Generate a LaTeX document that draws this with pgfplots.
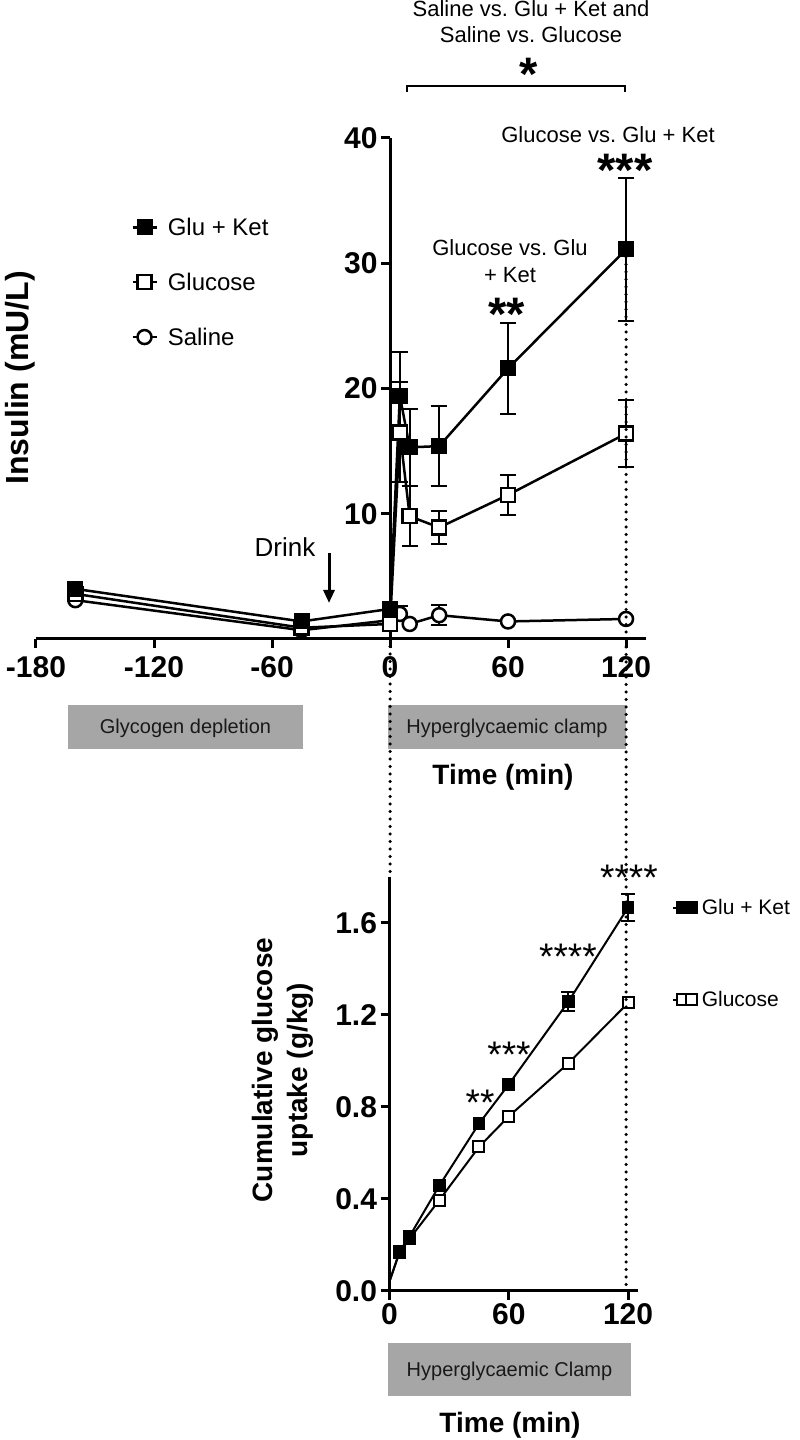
\documentclass[border=0pt]{standalone}
\usepackage{fontspec}
\setmainfont{Liberation Sans}
\usepackage{pgfplots}
\pgfplotsset{compat=1.18}
\usetikzlibrary{arrows.meta}
\definecolor{boxgray}{RGB}{166,166,166}
\definecolor{boxtext}{RGB}{25,25,25}
\frenchspacing
\tikzset{
 GK/.style={black, line width=2.5pt, mark=square*, mark size=7pt, mark options={solid, fill=black, draw=black, line width=2pt}},
 GL/.style={black, line width=2.5pt, mark=square*, mark size=7pt, mark options={solid, fill=white, draw=black, line width=2.5pt}},
 SA/.style={black, line width=2.5pt, mark=*, mark size=7pt, mark options={solid, fill=white, draw=black, line width=2.5pt}},
 GKb/.style={black, line width=2pt, mark=square*, mark size=5.5pt, mark options={solid, fill=black, draw=black, line width=1.8pt}},
 GLb/.style={black, line width=2pt, mark=square*, mark size=5.5pt, mark options={solid, fill=white, draw=black, line width=2pt}},
 dotline/.style={black, line width=3.5pt, line cap=round, dash pattern=on 0pt off 7.5pt},
}
\begin{document}
\begin{tikzpicture}[x=1pt,y=1pt]
\useasboundingbox (0pt,0pt) rectangle (800pt,1440pt);

% gray phase boxes
\fill[boxgray] (68pt,691pt) rectangle (303pt,735pt);
\fill[boxgray] (388pt,691pt) rectangle (626pt,735pt);
\fill[boxgray] (388pt,44pt) rectangle (631pt,97pt);
\node[anchor=base, text=boxtext, font=\fontsize{20}{24}\selectfont] at (185.5pt,706pt) {Glycogen depletion};
\node[anchor=base, text=boxtext, font=\fontsize{20}{24}\selectfont] at (507pt,706pt) {Hyperglycaemic clamp};
\node[anchor=base, text=boxtext, font=\fontsize{20}{24}\selectfont] at (509.5pt,63pt) {Hyperglycaemic Clamp};

% ---------------- top panel: insulin ----------------
\begin{axis}[
 at={(36pt,801pt)}, anchor=south west, scale only axis,
 width=609.7pt, height=501pt,
 xmin=-180, xmax=130, ymin=0, ymax=40,
 axis lines=middle, axis line style={-, line width=3pt},
 hide obscured x ticks=false, hide obscured y ticks=false,
 xtick={-180,-120,-60,0,60,120}, xticklabels={-180,-120,-60,0,60,120},
 ytick={10,20,30,40}, yticklabels={10,20,30,40},
 tick align=outside, major tick length=9pt,
 tick style={line width=3pt, black},
 ticklabel style={font=\bfseries\fontsize{30}{30}\selectfont},
 xticklabel style={yshift=-5pt},
 clip=false,
 reverse legend,
 legend cell align=left,
 legend style={at={(0.151,0.849)}, anchor=north west, draw=none, fill=none,
   font=\fontsize{24}{24}\selectfont, row sep=32pt, column sep=8pt},
 legend image code/.code={\draw[mark repeat=2,mark phase=2] plot coordinates {(0pt,0pt) (12pt,0pt) (24pt,0pt)};},
]
% error bars
\addplot[forget plot, only marks, mark=none, black,
  error bars/.cd, y dir=both, y explicit,
  error bar style={line width=2pt, black, solid},
  error mark options={rotate=90, mark size=8pt, line width=2pt, black}]
 coordinates {(0,2.4) +- (0,0.5) (5,19.4) +- (0,3.5) (10,15.3) +- (0,3.1) (25,15.4) +- (0,3.2) (60,21.6) +- (0,3.65) (120,31.1) +- (0,5.7)
  (0,1.2) +- (0,0.5) (5,16.5) +- (0,4.0) (10,9.8) +- (0,2.4) (25,8.9) +- (0,1.3) (60,11.5) +- (0,1.6) (120,16.4) +- (0,2.7)
  (5,2.0) +- (0,0.6) (25,1.9) +- (0,0.8)};
\addplot[SA] coordinates {(-160,3.1) (-45,0.7) (0,1.5) (5,2.0) (10,1.2) (25,1.9) (60,1.4) (120,1.6)};
\addlegendentry{Saline}
\addplot[GL] coordinates {(-160,3.6) (-45,0.9) (0,1.2) (5,16.5) (10,9.8) (25,8.9) (60,11.5) (120,16.4)};
\addlegendentry{Glucose}
\addplot[GK] coordinates {(-160,4.0) (-45,1.4) (0,2.4) (5,19.4) (10,15.3) (25,15.4) (60,21.6) (120,31.1)};
\addlegendentry{Glu + Ket}
\coordinate (t0) at (axis cs:0,0);
\coordinate (t120) at (axis cs:120,31.1);
\end{axis}

% ---------------- bottom panel: cumulative uptake ----------------
\begin{axis}[
 at={(389.5pt,149.3pt)}, anchor=south west, scale only axis,
 width=248.5pt, height=414pt,
 xmin=0, xmax=125, ymin=0, ymax=1.8,
 axis x line=bottom, axis y line=left, axis line style={-, line width=3pt},
 xtick={0,60,120}, xticklabels={0,60,120},
 ytick={0,0.4,0.8,1.2,1.6}, yticklabels={0.0,0.4,0.8,1.2,1.6},
 tick align=outside, major tick length=9pt,
 tick style={line width=3pt, black},
 ticklabel style={font=\bfseries\fontsize{30}{30}\selectfont},
 clip=false,
 reverse legend,
 legend cell align=left,
 legend style={at={(1.125,0.955)}, anchor=north west, draw=none, fill=none,
   font=\fontsize{21}{21}\selectfont, row sep=71pt, column sep=3pt},
 legend image code/.code={\draw[mark repeat=2,mark phase=2] plot coordinates {(0pt,0pt) (9pt,0pt) (18pt,0pt)};},
]
\addplot[forget plot, only marks, mark=none, black,
  error bars/.cd, y dir=both, y explicit,
  error bar style={line width=2pt, black, solid},
  error mark options={rotate=90, mark size=7pt, line width=2pt, black}]
 coordinates {(90,1.257) +- (0,0.04) (120,1.666) +- (0,0.057)};
\addplot[GLb, mark indices={2,3,4,5,6,7,8}] coordinates {(0,0.04) (5,0.165) (10,0.225) (25,0.393) (45,0.625) (60,0.758) (90,0.989) (120,1.251)};
\addlegendentry{Glucose}
\addplot[GKb, mark indices={2,3,4,5,6,7,8}] coordinates {(0,0.04) (5,0.17) (10,0.235) (25,0.456) (45,0.726) (60,0.897) (90,1.257) (120,1.666)};
\addlegendentry{Glu + Ket}
\coordinate (b0) at (axis cs:0,1.8);
\coordinate (b120) at (axis cs:120,0);
\end{axis}

% dotted guides
\draw[dotline] (t0) -- (t0 |- b0);
\draw[dotline] (t120) -- (t120 |- b120);

% axis titles
\node[rotate=90, font=\bfseries\fontsize{32}{32}\selectfont] at (20pt,1062pt) {Insulin (mU/L)};
\node[anchor=base, font=\bfseries\fontsize{28}{28}\selectfont] at (503pt,655pt) {Time (min)};
\node[anchor=base, font=\bfseries\fontsize{28}{28}\selectfont] at (510pt,8pt) {Time (min)};
\node[rotate=90, align=center, font=\bfseries\fontsize{28}{35}\selectfont] at (283pt,370pt) {Cumulative glucose\\uptake (g/kg)};

% drink arrow
\draw[line width=3pt, -{Triangle[length=13pt, width=11pt]}] (329pt,887pt) -- (329pt,837pt);
\node[anchor=base, font=\fontsize{26}{26}\selectfont] at (285pt,883pt) {Drink};

% significance annotations (top)
\node[anchor=base, font=\fontsize{22}{26}\selectfont] at (531pt,1423pt) {Saline vs. Glu + Ket and};
\node[anchor=base, font=\fontsize{22}{26}\selectfont] at (531pt,1397pt) {Saline vs. Glucose};
\node[anchor=base, font=\bfseries\fontsize{47}{47}\selectfont, inner sep=0pt] at (529pt,1349pt) {*};
\draw[line width=2.5pt] (407pt,1348pt) -- (407pt,1354pt) -- (625pt,1354pt) -- (625pt,1348pt);
\node[anchor=base, font=\fontsize{22}{26}\selectfont] at (608pt,1297pt) {Glucose vs. Glu + Ket};
\node[anchor=base, font=\bfseries\fontsize{47}{47}\selectfont, inner sep=0pt] at (625pt,1253pt) {***};
\node[anchor=base, font=\fontsize{22}{26}\selectfont] at (510pt,1184pt) {Glucose vs. Glu};
\node[anchor=base, font=\fontsize{22}{26}\selectfont] at (510pt,1157pt) {+ Ket};
\node[anchor=base, font=\bfseries\fontsize{47}{47}\selectfont, inner sep=0pt] at (507pt,1109pt) {**};

% significance annotations (bottom)
\node[anchor=base, font=\fontsize{37}{37}\selectfont, inner sep=0pt] at (480pt,324pt) {**};
\node[anchor=base, font=\fontsize{37}{37}\selectfont, inner sep=0pt] at (509pt,372pt) {***};
\node[anchor=base, font=\fontsize{37}{37}\selectfont, inner sep=0pt] at (568pt,470pt) {****};
\node[anchor=base, font=\fontsize{37}{37}\selectfont, inner sep=0pt] at (629pt,549pt) {****};
\end{tikzpicture}
\end{document}
